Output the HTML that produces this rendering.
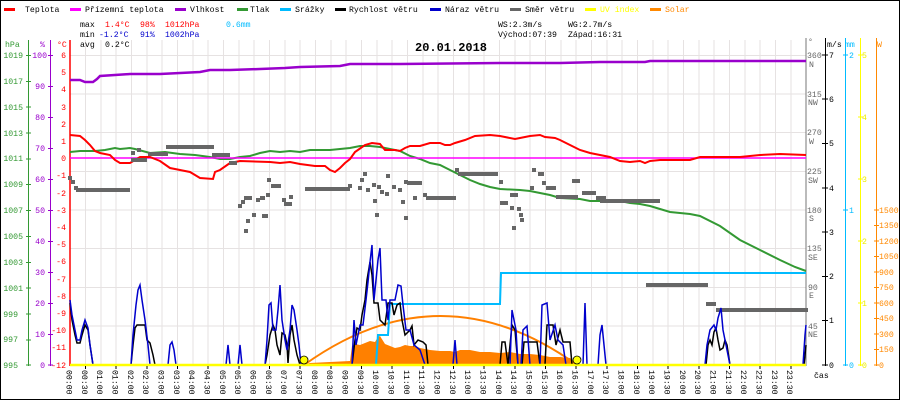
<!DOCTYPE html>
<html><head><meta charset="utf-8"><style>
html,body{margin:0;padding:0;background:#fff}
svg{display:block}
text{font-family:"Liberation Mono",monospace;font-size:8.2px}
</style></head><body>
<svg width="900" height="400" viewBox="0 0 900 400" xmlns="http://www.w3.org/2000/svg">
<rect x="0.5" y="0.5" width="899" height="399" fill="#fff" stroke="#000"/>
<g stroke="#e6e2e2" stroke-width="1">
<path d="M70 55.5H806M70 94H806M70 132.5H806M70 171.5H806M70 210H806M70 248.5H806M70 287.5H806M70 326H806"/>
<path d="M85.5 40V365M101 40V365M116 40V365M131.5 40V365M147 40V365M162 40V365M177.5 40V365M193 40V365M208 40V365M223.5 40V365M239 40V365M254 40V365M269.5 40V365M285 40V365M300 40V365M315.5 40V365M331 40V365M346 40V365M361.5 40V365M377 40V365M392 40V365M407.5 40V365M423 40V365M438 40V365M453.5 40V365M469 40V365M484 40V365M499.5 40V365M515 40V365M530 40V365M545.5 40V365M561 40V365M576 40V365M591.5 40V365M607 40V365M622 40V365M637.5 40V365M653 40V365M668 40V365M683.5 40V365M699 40V365M714 40V365M729.5 40V365M745 40V365M760 40V365M775.5 40V365M791 40V365"/>
</g>
<g>
<rect x="4" y="8" width="11" height="3" fill="#f00"/><text x="25" y="12">Teplota</text>
<rect x="70" y="8" width="11" height="3" fill="#f0f"/><text x="85" y="12">Přízemní teplota</text>
<rect x="175" y="8" width="11" height="3" fill="#90c"/><text x="190" y="12">Vlhkost</text>
<rect x="237" y="8" width="11" height="3" fill="#393"/><text x="250" y="12">Tlak</text>
<rect x="280" y="8" width="11" height="3" fill="#0bf"/><text x="295" y="12">Srážky</text>
<rect x="335" y="8" width="11" height="3" fill="#000"/><text x="349" y="12">Rychlost větru</text>
<rect x="430" y="8" width="11" height="3" fill="#00c"/><text x="445" y="12">Náraz větru</text>
<rect x="510" y="8" width="11" height="3" fill="#666"/><text x="525" y="12">Směr větru</text>
<rect x="585" y="8" width="11" height="3" fill="#ff0"/><text x="600" y="12" fill="#ff0">UV index</text>
<rect x="650" y="8" width="11" height="3" fill="#f80"/><text x="665" y="12" fill="#f80">Solar</text>
</g>
<text x="80" y="27">max</text><text x="105" y="27" fill="#f00">1.4°C</text><text x="140" y="27" fill="#f00">98%</text><text x="165" y="27" fill="#f00">1012hPa</text><text x="226" y="27" fill="#0bf">0.6mm</text>
<text x="80" y="37">min</text><text x="99" y="37" fill="#00c">-1.2°C</text><text x="140" y="37" fill="#00c">91%</text><text x="165" y="37" fill="#00c">1002hPa</text>
<text x="80" y="47">avg</text><text x="105" y="47">0.2°C</text>
<text x="498" y="27">WS:2.3m/s</text><text x="568" y="27">WG:2.7m/s</text>
<text x="498" y="37">Východ:07:39</text><text x="568" y="37">Západ:16:31</text>
<text x="415" y="51" style="font-size:12px;font-weight:bold">20.01.2018</text>
<text x="5" y="47" fill="#393">hPa</text><text x="40" y="47" fill="#90c">%</text><text x="57" y="47" fill="#f00">°C</text>
<line x1="28.5" y1="40" x2="28.5" y2="366" stroke="#393"/>
<line x1="50.5" y1="40" x2="50.5" y2="366" stroke="#90c"/>
<line x1="70" y1="40" x2="70" y2="366" stroke="#f00" stroke-width="1.5"/>
<g fill="#393" text-anchor="end">
<text x="23" y="58">1019</text><text x="23" y="84">1017</text><text x="23" y="110">1015</text><text x="23" y="136">1013</text><text x="23" y="161">1011</text><text x="23" y="187">1009</text><text x="23" y="213">1007</text><text x="23" y="239">1005</text><text x="23" y="265">1003</text><text x="23" y="291">1001</text><text x="18" y="317">999</text><text x="18" y="342">997</text><text x="18" y="368">995</text>
</g>
<g stroke="#393"><path d="M26 55.5h5M26 81.5h5M26 107h5M26 133h5M26 159h5M26 184.5h5M26 210.5h5M26 236.5h5M26 262.5h5M26 288h5M26 314h5M26 340h5M26 365h5"/></g>
<g fill="#90c" text-anchor="end">
<text x="47" y="58">100</text><text x="45" y="89">90</text><text x="45" y="120">80</text><text x="45" y="151">70</text><text x="45" y="182">60</text><text x="45" y="213">50</text><text x="45" y="244">40</text><text x="45" y="275">30</text><text x="45" y="306">20</text><text x="45" y="337">10</text><text x="45" y="368">0</text>
</g>
<g stroke="#90c"><path d="M48 55.5h5M48 86.5h5M48 117.5h5M48 148.5h5M48 179.5h5M48 210.5h5M48 241.5h5M48 272.5h5M48 303.5h5M48 334.5h5M48 365h5"/></g>
<g fill="#f00" text-anchor="end">
<text x="66" y="58">6</text><text x="66" y="75">5</text><text x="66" y="92">4</text><text x="66" y="110">3</text><text x="66" y="127">2</text><text x="66" y="144">1</text><text x="66" y="161">0</text><text x="66" y="178">-1</text><text x="66" y="196">-2</text><text x="66" y="213">-3</text><text x="66" y="230">-4</text><text x="66" y="247">-5</text><text x="66" y="264">-6</text><text x="66" y="282">-7</text><text x="66" y="299">-8</text><text x="66" y="316">-9</text><text x="66" y="333">-10</text><text x="66" y="350">-11</text><text x="66" y="368">-12</text>
</g>
<line x1="806" y1="38" x2="806" y2="366" stroke="#777"/>
<line x1="825.5" y1="38" x2="825.5" y2="366" stroke="#000"/>
<line x1="845.5" y1="38" x2="845.5" y2="366" stroke="#0bf"/>
<line x1="860.5" y1="38" x2="860.5" y2="366" stroke="#ff0"/>
<line x1="876.5" y1="38" x2="876.5" y2="366" stroke="#f80"/>
<text x="808" y="44" fill="#666">°</text><text x="827" y="47">m/s</text><text x="845" y="47" fill="#0bf">mm</text><text x="877" y="47" fill="#f80">W</text>
<g fill="#666">
<text x="807" y="58">360</text><text x="809" y="67">N</text>
<text x="807" y="97">315</text><text x="808" y="105">NW</text>
<text x="807" y="135">270</text><text x="809" y="144">W</text>
<text x="807" y="174">225</text><text x="808" y="183">SW</text>
<text x="807" y="213">180</text><text x="809" y="221">S</text>
<text x="807" y="251">135</text><text x="808" y="260">SE</text>
<text x="808" y="290">90</text><text x="809" y="298">E</text>
<text x="808" y="329">45</text><text x="808" y="337">NE</text>
</g>
<g stroke="#000"><path d="M822 55h6M822 99h6M822 143.5h6M822 188h6M822 232h6M822 276.5h6M822 320.5h6M822 365h6"/></g>
<g><text x="829" y="58">7</text><text x="829" y="102">6</text><text x="829" y="146">5</text><text x="829" y="191">4</text><text x="829" y="235">3</text><text x="829" y="279">2</text><text x="829" y="323">1</text><text x="829" y="368">0</text></g>
<g stroke="#0bf"><path d="M843 55h5M843 210h5M843 365h5"/></g>
<g fill="#0bf"><text x="849" y="58">2</text><text x="849" y="213">1</text><text x="849" y="368">0</text></g>
<g stroke="#ff0"><path d="M858 55h5M858 117h5M858 179h5M858 241h5M858 303h5M858 365h5"/></g>
<g fill="#ee0"><text x="862" y="58">5</text><text x="862" y="120">4</text><text x="862" y="182">3</text><text x="862" y="244">2</text><text x="862" y="306">1</text><text x="862" y="368">0</text></g>
<g stroke="#f80"><path d="M874 210h5M874 225.5h5M874 241h5M874 256.5h5M874 272h5M874 287.5h5M874 303h5M874 318.5h5M874 334h5M874 349.5h5M874 365h5"/></g>
<g fill="#f80"><text x="879" y="213">1500</text><text x="879" y="228">1350</text><text x="879" y="244">1200</text><text x="879" y="259">1050</text><text x="879" y="275">900</text><text x="879" y="290">750</text><text x="879" y="306">600</text><text x="879" y="321">450</text><text x="879" y="337">300</text><text x="879" y="352">150</text><text x="879" y="368">0</text></g>
<polygon fill="#ff8000" points="304,365 310,363 330,362 350,361 352,346 355,344 360,345 365,343 370,341 375,342 378,337 380,336 385,344 390,346 395,348 400,347 405,345 410,346 415,346 420,348 425,349 430,350 440,351 450,351 455,352 460,350 470,350 480,352 490,352 500,353 510,352 520,354 530,354 540,355 545,356 550,357 560,357 570,358 577,365"/>
<path d="M304 365Q440.5 267 577 365" fill="none" stroke="#ff8000" stroke-width="2"/>
<polyline fill="none" stroke="#0bf" stroke-width="2" points="70,365 376,365 378,335 388,335 390,304 500,304 501,273 806,273"/>
<polyline fill="none" stroke="#90c" stroke-width="2.5" points="70,80 80,80 85,82 93,82 97,79 100,76 130,74 160,74 200,72 210,70 230,70 260,69 285,68 300,67 340,66 350,64 400,64 500,63 560,63 600,62 645,62 650,61 806,61"/>
<polyline fill="none" stroke="#393" stroke-width="2" points="70,152 80,151 95,151 105,150 115,148 120,149 130,148 135,149 150,153 165,152 180,154 195,155 210,157 220,159 230,159 240,157 250,156 260,153 270,151 280,152 290,151 300,152 310,150 330,150 340,149 350,148 360,146 370,146 380,147 390,149 400,151 410,156 420,159 430,163 440,165 450,170 460,175 470,180 480,184 490,187 500,189 520,190 530,191 540,193 550,195 560,198 580,199 590,201 620,201 630,203 640,204 650,206 660,209 670,212 690,214 700,216 720,226 740,240 760,250 780,260 795,267 806,271"/>
<line x1="70" y1="158" x2="806" y2="158" stroke="#f0f" stroke-width="1.5"/>
<polyline fill="none" stroke="#f00" stroke-width="2" points="70,135 80,136 85,140 90,145 95,151 100,153 110,155 115,160 120,163 130,163 135,160 140,157 150,157 160,161 170,168 180,170 190,172 200,178 213,179 215,172 220,170 230,163 240,161 270,162 280,163 290,162 300,164 315,166 325,166 330,170 335,172 340,168 345,163 350,159 355,152 365,145 372,143 380,144 385,150 395,150 400,151 405,148 410,146 420,146 430,143 440,143 445,145 450,145 455,143 465,140 475,136 490,135 500,136 515,139 520,138 530,136 540,135 545,137 555,138 560,140 570,145 580,150 590,153 600,155 610,157 620,161 630,162 640,161 645,163 650,161 660,160 690,160 700,157 740,157 760,155 780,154 806,155"/>
<g fill="#666">
<rect x="68" y="176" width="4" height="4"/><rect x="71" y="180" width="4" height="4"/><rect x="74" y="186" width="4" height="4"/>
<rect x="76" y="188" width="54" height="4"/>
<rect x="131" y="151" width="4" height="4"/><rect x="137" y="148" width="4" height="4"/><rect x="131" y="158" width="16" height="4"/>
<rect x="148" y="152" width="20" height="4"/>
<rect x="166" y="145" width="48" height="4"/><rect x="212" y="153" width="18" height="4"/>
<rect x="229" y="161" width="8" height="4"/>
<rect x="238" y="204" width="4" height="4"/><rect x="241" y="200" width="4" height="4"/><rect x="244" y="196" width="8" height="4"/>
<rect x="244" y="229" width="4" height="4"/><rect x="246" y="219" width="4" height="4"/><rect x="252" y="213" width="4" height="4"/>
<rect x="256" y="198" width="4" height="4"/><rect x="260" y="196" width="5" height="4"/><rect x="266" y="193" width="4" height="4"/>
<rect x="262" y="214" width="6" height="4"/><rect x="267" y="178" width="4" height="4"/><rect x="271" y="184" width="10" height="4"/>
<rect x="282" y="198" width="4" height="4"/><rect x="284" y="202" width="8" height="4"/><rect x="289" y="195" width="4" height="4"/>
<rect x="305" y="187" width="45" height="4"/><rect x="348" y="184" width="4" height="4"/><rect x="358" y="186" width="4" height="4"/>
<rect x="360" y="178" width="4" height="4"/><rect x="363" y="172" width="4" height="4"/><rect x="366" y="188" width="4" height="4"/>
<rect x="372" y="183" width="4" height="4"/><rect x="373" y="199" width="4" height="4"/><rect x="377" y="185" width="4" height="4"/>
<rect x="380" y="190" width="4" height="4"/><rect x="385" y="192" width="4" height="4"/><rect x="386" y="174" width="4" height="4"/>
<rect x="375" y="213" width="4" height="4"/><rect x="392" y="185" width="4" height="4"/><rect x="398" y="188" width="4" height="4"/>
<rect x="401" y="200" width="4" height="4"/><rect x="404" y="180" width="4" height="4"/><rect x="404" y="216" width="4" height="4"/>
<rect x="407" y="181" width="15" height="4"/><rect x="413" y="196" width="4" height="4"/><rect x="423" y="193" width="4" height="4"/>
<rect x="426" y="196" width="30" height="4"/><rect x="455" y="168" width="4" height="4"/><rect x="458" y="172" width="40" height="4"/>
<rect x="499" y="180" width="4" height="4"/><rect x="500" y="201" width="8" height="4"/><rect x="510" y="193" width="8" height="4"/>
<rect x="510" y="206" width="4" height="4"/><rect x="517" y="207" width="4" height="4"/><rect x="519" y="213" width="4" height="4"/>
<rect x="520" y="218" width="4" height="4"/><rect x="512" y="226" width="4" height="4"/><rect x="530" y="186" width="4" height="4"/>
<rect x="532" y="168" width="4" height="4"/><rect x="538" y="172" width="6" height="4"/><rect x="542" y="181" width="4" height="4"/>
<rect x="546" y="186" width="10" height="4"/><rect x="556" y="195" width="22" height="4"/><rect x="572" y="179" width="8" height="4"/>
<rect x="582" y="191" width="14" height="4"/><rect x="596" y="196" width="10" height="4"/><rect x="600" y="199" width="60" height="4"/>
<rect x="646" y="283" width="62" height="4"/><rect x="706" y="302" width="10" height="4"/><rect x="716" y="308" width="92" height="4"/>
</g>
<polyline fill="none" stroke="#000" stroke-width="1.5" points="70,303 72,320 75,335 77,343 80,343 82,335 85,325 88,330 90,345 93,365 131,365 133,345 135,328 137,325 145,325 147,340 150,343 153,355 155,365 265,365 267,355 270,335 273,325 275,330 277,345 280,355 282,333 285,335 287,345 288,363 290,335 292,325 294,340 297,355 300,365 352,365 355,340 357,328 360,330 362,315 365,300 367,280 370,262 372,275 374,303 378,303 380,320 385,325 388,303 392,303 394,315 397,305 400,303 402,320 405,335 410,330 412,326 414,345 418,340 423,342 426,345 428,365 500,365 502,342 505,342 508,365 512,325 515,330 518,365 522,365 524,342 537,342 540,365 545,365 547,325 553,325 556,345 560,330 563,342 570,342 572,365 706,365 708,345 710,340 712,345 714,332 716,328 718,340 720,350 723,348 725,340 727,345 730,365 804,365 806,345"/>
<polyline fill="none" stroke="#00c" stroke-width="1.5" points="70,300 72,315 75,330 77,340 80,340 82,330 85,320 88,328 90,345 93,365 131,365 133,335 136,305 138,290 140,285 142,300 145,320 148,345 150,365 168,365 170,345 172,342 174,350 176,365 226,365 228,345 230,365 238,365 240,345 242,365 265,365 267,340 269,305 271,303 273,330 276,330 278,310 280,285 282,320 285,340 287,350 290,330 292,305 294,310 297,330 299,345 301,365 352,365 354,320 356,345 360,325 363,325 366,300 368,282 370,262 372,245 374,300 378,260 380,248 382,300 386,300 388,320 390,300 395,300 398,285 401,286 403,305 406,330 410,330 414,345 420,350 425,365 453,365 455,340 457,365 510,365 512,310 514,320 516,330 518,365 521,365 523,330 527,326 530,365 540,365 542,305 547,303 550,340 555,325 558,340 563,345 566,365 583,365 585,303 587,365 598,365 600,335 602,325 604,345 606,365 705,365 707,345 710,330 714,325 716,330 718,318 721,308 723,330 726,345 730,365 803,365 805,335 806,325"/>
<line x1="70" y1="365" x2="806" y2="365" stroke="#ff0" stroke-width="2.5"/>
<circle cx="304" cy="360" r="4" fill="#ff0" stroke="#000" stroke-width="0.8"/>
<circle cx="577" cy="360" r="4" fill="#ff0" stroke="#000" stroke-width="0.8"/>
<g stroke="#000"><path d="M85.5 366v3M116 366v3M147 366v3M177.5 366v3M208 366v3M239 366v3M269.5 366v3M300 366v3M331 366v3M361.5 366v3M392 366v3M423 366v3M453.5 366v3M484 366v3M515 366v3M545.5 366v3M576 366v3M607 366v3M637.5 366v3M668 366v3M699 366v3M729.5 366v3M760 366v3M791 366v3"/></g>
<g style="font-size:8.6px">
<text transform="translate(66.5,370) rotate(90)">00:00</text><text transform="translate(81.8,370) rotate(90)">00:30</text><text transform="translate(97.2,370) rotate(90)">01:00</text><text transform="translate(112.5,370) rotate(90)">01:30</text><text transform="translate(127.8,370) rotate(90)">02:00</text><text transform="translate(143.2,370) rotate(90)">02:30</text><text transform="translate(158.5,370) rotate(90)">03:00</text><text transform="translate(173.8,370) rotate(90)">03:30</text><text transform="translate(189.2,370) rotate(90)">04:00</text><text transform="translate(204.5,370) rotate(90)">04:30</text><text transform="translate(219.8,370) rotate(90)">05:00</text><text transform="translate(235.2,370) rotate(90)">05:30</text><text transform="translate(250.5,370) rotate(90)">06:00</text><text transform="translate(265.8,370) rotate(90)">06:30</text><text transform="translate(281.2,370) rotate(90)">07:00</text><text transform="translate(296.5,370) rotate(90)">07:30</text><text transform="translate(311.8,370) rotate(90)">08:00</text><text transform="translate(327.2,370) rotate(90)">08:30</text><text transform="translate(342.5,370) rotate(90)">09:00</text><text transform="translate(357.8,370) rotate(90)">09:30</text><text transform="translate(373.2,370) rotate(90)">10:00</text><text transform="translate(388.5,370) rotate(90)">10:30</text><text transform="translate(403.8,370) rotate(90)">11:00</text><text transform="translate(419.2,370) rotate(90)">11:30</text><text transform="translate(434.5,370) rotate(90)">12:00</text><text transform="translate(449.8,370) rotate(90)">12:30</text><text transform="translate(465.2,370) rotate(90)">13:00</text><text transform="translate(480.5,370) rotate(90)">13:30</text><text transform="translate(495.8,370) rotate(90)">14:00</text><text transform="translate(511.2,370) rotate(90)">14:30</text><text transform="translate(526.5,370) rotate(90)">15:00</text><text transform="translate(541.8,370) rotate(90)">15:30</text><text transform="translate(557.2,370) rotate(90)">16:00</text><text transform="translate(572.5,370) rotate(90)">16:30</text><text transform="translate(587.8,370) rotate(90)">17:00</text><text transform="translate(603.2,370) rotate(90)">17:30</text><text transform="translate(618.5,370) rotate(90)">18:00</text><text transform="translate(633.8,370) rotate(90)">18:30</text><text transform="translate(649.2,370) rotate(90)">19:00</text><text transform="translate(664.5,370) rotate(90)">19:30</text><text transform="translate(679.8,370) rotate(90)">20:00</text><text transform="translate(695.2,370) rotate(90)">20:30</text><text transform="translate(710.5,370) rotate(90)">21:00</text><text transform="translate(725.8,370) rotate(90)">21:30</text><text transform="translate(741.2,370) rotate(90)">22:00</text><text transform="translate(756.5,370) rotate(90)">22:30</text><text transform="translate(771.8,370) rotate(90)">23:00</text><text transform="translate(787.2,370) rotate(90)">23:30</text>
</g>
<text x="814" y="378">čas</text>
</svg>
</body></html>
